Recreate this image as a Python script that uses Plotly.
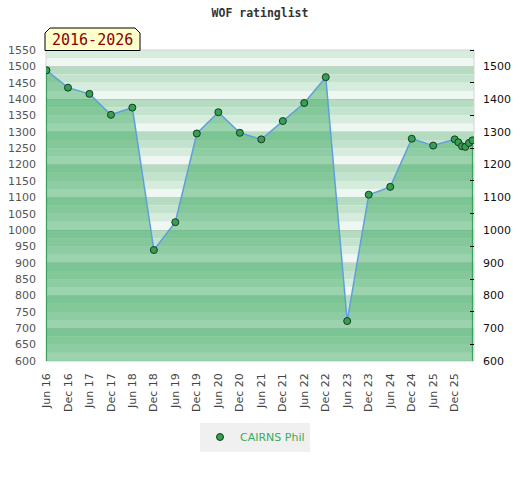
import plotly.graph_objects as go

# ---- data ----
dates = ["2016-06-01", "2016-12-01", "2017-06-01", "2017-12-01", "2018-06-01",
         "2018-12-01", "2019-06-01", "2019-12-01", "2020-06-01", "2020-12-01",
         "2021-06-01", "2021-12-01", "2022-06-01", "2022-12-01", "2023-06-01",
         "2023-12-01", "2024-06-01", "2024-12-01", "2025-06-01", "2025-12-01",
         "2026-01-01", "2026-02-01", "2026-03-01", "2026-04-01", "2026-05-01"]
ratings = [1488, 1435, 1416, 1352, 1374,
           939, 1024, 1295, 1360, 1297,
           1277, 1333, 1388, 1467, 722,
           1108, 1132, 1279, 1258, 1277,
           1268, 1256, 1254, 1266, 1274]
player = "CAIRNS Phil"
period = "2016-2026"
title = "WOF ratinglist"

tick_dates = ["2016-06-01", "2016-12-01", "2017-06-01", "2017-12-01", "2018-06-01",
              "2018-12-01", "2019-06-01", "2019-12-01", "2020-06-01", "2020-12-01",
              "2021-06-01", "2021-12-01", "2022-06-01", "2022-12-01", "2023-06-01",
              "2023-12-01", "2024-06-01", "2024-12-01", "2025-06-01", "2025-12-01"]
tick_labels = ["Jun 16", "Dec 16", "Jun 17", "Dec 17", "Jun 18", "Dec 18", "Jun 19",
               "Dec 19", "Jun 20", "Dec 20", "Jun 21", "Dec 21", "Jun 22", "Dec 22",
               "Jun 23", "Dec 23", "Jun 24", "Dec 24", "Jun 25", "Dec 25"]
left_ticks = list(range(600, 1551, 50))
right_ticks = list(range(600, 1501, 100))

# ---- style / layout constants ----
Y_MIN, Y_MAX = 600, 1550
W, H = 520, 480
ML, MT = 46, 50          # plot area starts at (46, 50)
MR = W - 474             # plot area ends at x 474
MB = H - 361             # and at y 361
PW, PH = W - ML - MR, H - MT - MB
stripe_colors = ["#b5dcc1", "#c4e3ce", "#d6ecdd", "#eef7f1"]  # top -> bottom within each 100 band
FILL = "rgba(49,166,88,0.44)"
LINE = "rgb(95,160,220)"
MARK = "rgb(52,160,82)"

def px(x):  # pixel x -> paper
    return (x - ML) / PW

def py(y):  # pixel y -> paper
    return (H - MB - y) / PH

fig = go.Figure()

# baseline for fill
fig.add_trace(go.Scatter(x=dates, y=[Y_MIN] * len(dates), mode="lines",
                         line=dict(width=0, color="rgba(0,0,0,0)"),
                         showlegend=False, hoverinfo="skip"))
fig.add_trace(go.Scatter(x=dates, y=ratings, mode="lines", fill="tonexty",
                         fillcolor=FILL, line=dict(color=LINE, width=1.5),
                         showlegend=False, name=player))
# vertical fill edges
fig.add_trace(go.Scatter(x=[dates[0], dates[0]], y=[Y_MIN, ratings[0]], mode="lines",
                         line=dict(color="rgb(60,160,95)", width=1.2),
                         showlegend=False, hoverinfo="skip"))
fig.add_trace(go.Scatter(x=[dates[-1], dates[-1]], y=[Y_MIN, ratings[-1]], mode="lines",
                         line=dict(color="rgb(60,160,95)", width=1.2),
                         showlegend=False, hoverinfo="skip"))
# markers on top
fig.add_trace(go.Scatter(x=dates, y=ratings, mode="markers", name=player,
                         marker=dict(size=7, color=MARK, line=dict(color="#1a3a22", width=1)),
                         showlegend=True))
# right axis carrier
fig.add_trace(go.Scatter(x=[dates[0]], y=[Y_MIN], yaxis="y2", mode="markers",
                         marker=dict(opacity=0), showlegend=False, hoverinfo="skip"))

shapes = []
for base in range(Y_MIN, 1600, 100):
    for i, c in enumerate(stripe_colors):
        top = base + 100 - 25 * i
        bot = top - 25
        y0, y1 = max(bot, Y_MIN), min(top, Y_MAX)
        if y1 <= y0:
            continue
        shapes.append(dict(type="rect", xref="paper", yref="y", x0=0, x1=1, y0=y0, y1=y1,
                           fillcolor=c, line=dict(width=0), layer="below"))
# plot border
shapes.append(dict(type="rect", xref="paper", yref="paper", x0=0, x1=1, y0=0, y1=1,
                   line=dict(color="#d4d4d4", width=1), layer="below"))
# period label box with chamfered top corners
bx0, bx1, by0, by1, ch = 45, 140, 50.5, 28, 5
path = (f"M {px(bx0)} {py(by0)} L {px(bx0)} {py(by1 + ch)} L {px(bx0 + ch)} {py(by1)} "
        f"L {px(bx1 - ch)} {py(by1)} L {px(bx1)} {py(by1 + ch)} L {px(bx1)} {py(by0)} Z")
shapes.append(dict(type="path", xref="paper", yref="paper", path=path,
                   fillcolor="#ffffcc", line=dict(color="#000000", width=1), layer="above"))

fig.update_layout(
    width=W, height=H,
    margin=dict(l=ML, r=MR, t=MT, b=MB, pad=0, autoexpand=False),
    paper_bgcolor="white", plot_bgcolor="rgba(0,0,0,0)",
    title=dict(text=title, x=px(260), xref="paper", xanchor="center",
               y=1 - 13 / H, yanchor="middle",
               font=dict(family="DejaVu Sans Mono", size=11.5, color="#333333", weight="bold")),
    shapes=shapes,
    annotations=[dict(text=period, xref="paper", yref="paper", x=px(92.5), y=py(39.5),
                      xanchor="center", yanchor="middle", showarrow=False,
                      font=dict(family="DejaVu Sans Mono", size=15, color="#8b0000"))],
    xaxis=dict(type="date", range=["2016-05-28", "2026-05-14"], tickvals=tick_dates,
               ticktext=tick_labels, tickangle=-90, showgrid=False, zeroline=False,
               ticks="", ticklabelstandoff=9, automargin=False,
               tickfont=dict(family="DejaVu Sans", size=11, color="#444444")),
    yaxis=dict(range=[Y_MIN, Y_MAX], tickvals=left_ticks, showgrid=False, zeroline=False,
               ticks="", ticklabelstandoff=9, automargin=False,
               tickfont=dict(family="DejaVu Sans", size=11, color="#555555")),
    yaxis2=dict(range=[Y_MIN, Y_MAX], overlaying="y", side="right", tickvals=right_ticks,
                showgrid=True, gridcolor="rgba(170,170,170,0.35)", gridwidth=1, zeroline=False,
                ticks="", ticklabelstandoff=8, automargin=False,
                minor=dict(tickvals=list(range(650, 1551, 100)), ticks="inside", ticklen=4,
                           tickcolor="#000000", showgrid=False),
                tickfont=dict(family="DejaVu Sans", size=11, color="#111111")),
    legend=dict(orientation="h", x=px(255), xanchor="center",
                y=py(437), yanchor="middle",
                bgcolor="#f0f0f0", font=dict(family="DejaVu Sans", size=11, color="rgb(60,170,90)"),
                itemwidth=30),
    showlegend=True,
)

fig.write_html("out.html", config={"displayModeBar": False},
               post_script="document.body.style.margin='0';")
